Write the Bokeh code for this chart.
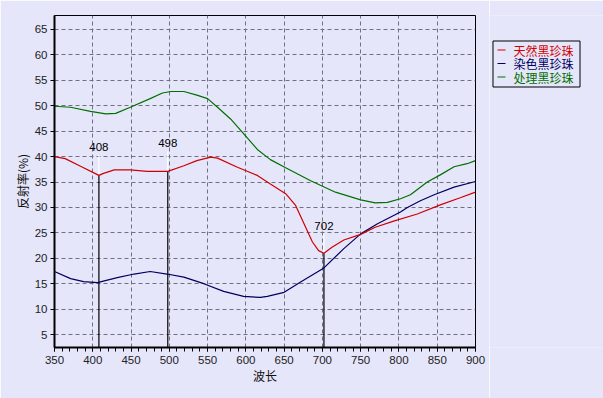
from bokeh.plotting import figure
from bokeh.layouts import row
from bokeh.models import Range1d, Label, FixedTicker
from bokeh.core.properties import value
from bokeh.embed import file_html
from bokeh.resources import INLINE

# ---- data ----
wl_green = [350, 371, 397, 417, 430, 449, 475, 491, 502, 519, 536, 550, 563, 580, 597, 615, 632, 652, 684, 717, 750, 769, 785, 802, 815, 837, 854, 872, 889, 900]
v_green = [49.9, 49.7, 48.9, 48.4, 48.5, 49.7, 51.4, 52.5, 52.8, 52.8, 52.1, 51.4, 49.7, 47.4, 44.5, 41.4, 39.4, 37.8, 35.3, 33.0, 31.5, 30.9, 31.0, 31.7, 32.5, 35.0, 36.4, 38.0, 38.6, 39.2]

wl_red = [350, 364, 384, 408, 414, 428, 449, 471, 498, 519, 536, 554, 563, 589, 615, 632, 652, 665, 676, 687, 695, 702, 713, 728, 750, 769, 793, 824, 854, 880, 900]
v_red = [40.0, 39.6, 38.1, 36.3, 36.7, 37.4, 37.4, 37.1, 37.1, 38.2, 39.2, 39.9, 39.7, 37.9, 36.3, 34.6, 32.7, 30.4, 26.8, 23.2, 21.5, 21.0, 22.2, 23.6, 24.7, 26.1, 27.3, 28.7, 30.5, 31.9, 33.0]

wl_blue = [350, 371, 388, 406, 432, 454, 475, 497, 519, 545, 571, 597, 619, 628, 650, 671, 702, 728, 750, 772, 802, 811, 828, 846, 872, 900]
v_blue = [17.4, 16.0, 15.4, 15.2, 16.2, 16.9, 17.4, 16.9, 16.3, 15.0, 13.5, 12.5, 12.3, 12.5, 13.3, 15.3, 18.1, 21.9, 24.8, 26.8, 29.1, 30.0, 31.3, 32.5, 34.0, 35.1]

series_names = ["天然黑珍珠", "染色黑珍珠", "处理黑珍珠"]
series_colors = ["#D00000", "#000060", "#007000"]

mark_wl = [408, 498, 702]
mark_val = [36.3, 37.1, 21.0]
mark_label_y = [41.8, 42.6, 26.4]
mark_labels = ["408", "498", "702"]

x_ticks = [350, 400, 450, 500, 550, 600, 650, 700, 750, 800, 850, 900]
y_ticks = [5, 10, 15, 20, 25, 30, 35, 40, 45, 50, 55, 60, 65]

BG = "#E6E6FA"
FONT = "Liberation Sans"
CJK = "Noto Sans CJK SC"

p = figure(frame_width=421, frame_height=332, output_backend="svg", toolbar_location=None,
           x_range=Range1d(350, 900), y_range=Range1d(2.45, 67.75),
           min_border_left=54, min_border_top=15, min_border_right=14, min_border_bottom=51,
           background_fill_color=BG, border_fill_color=BG)
p.outline_line_color = "black"
p.outline_line_width = 1

for ax in (p.xaxis, p.yaxis):
    ax.axis_line_width = 2
    ax.axis_line_color = "black"
    ax.major_tick_line_color = "black"
    ax.minor_tick_line_color = "black"
    ax.major_label_text_font = FONT
    ax.major_label_text_font_size = "11.5px"
    ax.major_label_text_color = "#222222"
    ax.axis_label_text_font = CJK
    ax.axis_label_text_font_size = "12px"
    ax.axis_label_text_font_style = "normal"
    ax.axis_label_text_color = "#111111"

p.xaxis.ticker = FixedTicker(ticks=x_ticks, minor_ticks=list(range(350, 901, 10)))
p.yaxis.ticker = FixedTicker(ticks=y_ticks, minor_ticks=[])
p.xaxis.major_tick_out = 4
p.xaxis.major_tick_in = 0
p.xaxis.minor_tick_out = 4
p.xaxis.minor_tick_in = 0
p.yaxis.major_tick_out = 4
p.yaxis.major_tick_in = 0
p.yaxis.minor_tick_out = 0
p.yaxis.minor_tick_in = 0
p.xaxis.major_label_standoff = 4
p.yaxis.major_label_standoff = 3
p.xaxis.axis_label = "波长"
p.yaxis.axis_label = "反射率(%)"
p.xaxis.axis_label_standoff = 0
p.yaxis.axis_label_standoff = 1

for g in (p.xgrid, p.ygrid):
    g.grid_line_color = "#707080"
    g.grid_line_dash = "4 3"
    g.grid_line_width = 1
p.xgrid.ticker = FixedTicker(ticks=x_ticks)
p.ygrid.ticker = FixedTicker(ticks=y_ticks)

# marker vertical lines (white above curve, black below)
for w, v, ly in zip(mark_wl, mark_val, mark_label_y):
    p.segment(x0=[w], y0=[ly - 1.5], x1=[w], y1=[v], line_color="white", line_width=1.2)
    p.segment(x0=[w], y0=[v], x1=[w], y1=[2.45], line_color="black", line_width=1.2)

p.line(wl_green, v_green, line_color=series_colors[2], line_width=1.2)
p.line(wl_blue, v_blue, line_color=series_colors[1], line_width=1.2)
p.line(wl_red, v_red, line_color=series_colors[0], line_width=1.2)

for w, ly, t in zip(mark_wl, mark_label_y, mark_labels):
    p.add_layout(Label(x=w, y=ly, text=t, text_align="center", text_baseline="middle",
                       text_font=FONT, text_font_size="11.5px", text_color="black"))

# ---- legend panel (separate small figure; its frame is aligned with the main frame,
# so the y range spans the main frame's pixel rows 15..347) ----
lg = figure(width=114, height=398, output_backend="svg", toolbar_location=None,
            x_axis_type=None, y_axis_type=None,
            x_range=Range1d(489, 603), y_range=Range1d(347, 15),
            min_border_left=0, min_border_right=0, min_border_top=15, min_border_bottom=51,
            background_fill_color=BG, border_fill_color=BG)
lg.grid.visible = False
lg.outline_line_color = None
lg.quad(left=[492.5], right=[579.5], top=[40.5], bottom=[86.5],
        fill_color=BG, line_color="black", line_width=1)
leg_y = [49.5, 63, 76.5]
lg.segment(x0=[497] * 3, x1=[505] * 3, y0=leg_y, y1=leg_y, line_color=series_colors, line_width=1.2)
lg.text(x=[513] * 3, y=leg_y, text=series_names, text_color=series_colors,
        text_font=value(CJK), text_font_size="12px", text_baseline="middle", text_align="left")

open("out.html", "w").write(file_html(row(p, lg), INLINE))
